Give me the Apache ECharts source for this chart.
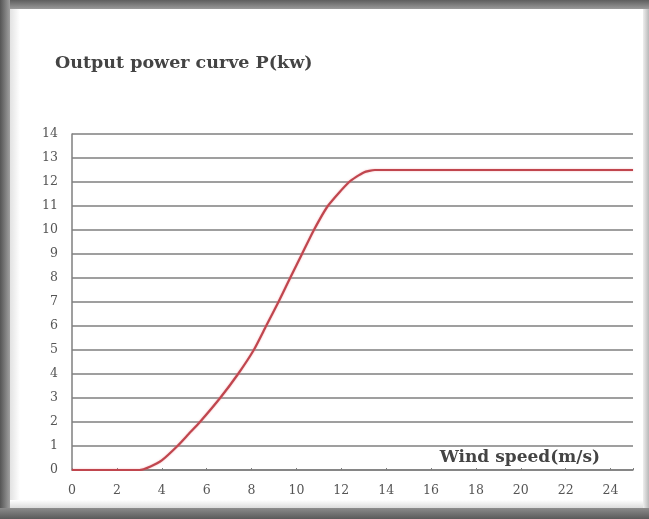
<!DOCTYPE html>
<html>
<head>
<meta charset="utf-8">
<script src="https://cdn.jsdelivr.net/npm/echarts@6/dist/echarts.min.js"></script>
<style>
  html, body { margin: 0; padding: 0; background: #fff; }
  #main { width: 649px; height: 519px; }
</style>
</head>
<body>
<div id="main"></div>
<script>
// wind speed (m/s) and output power (kW)
var speeds = [0, 3, 3.5, 4, 4.7, 5.2, 5.7, 6.6, 7.4, 8.1, 8.65, 9.2, 9.72, 10.25, 10.78, 11.4, 12.35, 13, 13.5, 25];
var power = [0, 0, 0.15, 0.4, 1, 1.5, 2, 3, 4, 5, 6, 7, 8, 9, 10, 11, 12, 12.4, 12.5, 12.5];
var xTicks = [0, 2, 4, 6, 8, 10, 12, 14, 16, 18, 20, 22, 24];
var yTicks = [0, 1, 2, 3, 4, 5, 6, 7, 8, 9, 10, 11, 12, 13, 14];

var serif = '"DejaVu Serif", "Liberation Serif", serif';
var gridGray = '#7f7f7f';

var myChart = echarts.init(document.getElementById('main'));

var curve = speeds.map(function (s, i) { return [s, power[i]]; });

var option = {
    backgroundColor: '#fff',
    animation: false,
    title: {
        text: 'Output power curve P(kw)',
        left: 50,
        top: 49,
        textStyle: {
            fontFamily: serif,
            fontWeight: 'bold',
            fontSize: 17.5,
            color: '#444'
        }
    },
    grid: {
        left: 72,
        right: 16,
        top: 134,
        bottom: 49
    },
    xAxis: {
        type: 'value',
        min: 0,
        max: 25,
        interval: 2,
        name: 'Wind speed(m/s)',
        nameLocation: 'end',
        nameGap: -33,
        nameTextStyle: {
            fontFamily: serif,
            fontWeight: 'bold',
            fontSize: 17,
            color: '#444',
            align: 'right',
            verticalAlign: 'bottom',
            padding: [0, 0, 4, 0]
        },
        splitLine: { show: false },
        axisLine: { show: true, lineStyle: { color: gridGray, width: 1.5 } },
        axisTick: { show: true, inside: true, length: 2, lineStyle: { color: gridGray } },
        axisLabel: {
            margin: 14,
            fontFamily: serif,
            fontSize: 12.5,
            color: '#555',
            customValues: xTicks
        }
    },
    yAxis: {
        type: 'value',
        min: 0,
        max: 14,
        interval: 1,
        splitLine: { show: true, lineStyle: { color: gridGray, width: 1.5 } },
        axisLine: { show: true, lineStyle: { color: gridGray, width: 1.5 } },
        axisTick: { show: false },
        axisLabel: {
            margin: 14,
            fontFamily: serif,
            fontSize: 12.5,
            color: '#555',
            customValues: yTicks
        }
    },
    graphic: [
        // photo frame round the chart
        { type: 'rect', shape: { x: 0, y: 0, width: 649, height: 9 },
          style: { fill: new echarts.graphic.LinearGradient(0, 0, 0, 1, [{ offset: 0, color: '#5e5e5e' }, { offset: 1, color: '#9a9a9a' }]) } },
        { type: 'rect', shape: { x: 0, y: 0, width: 10, height: 519 },
          style: { fill: new echarts.graphic.LinearGradient(0, 0, 1, 0, [{ offset: 0, color: '#555' }, { offset: 1, color: '#a0a0a0' }]) } },
        { type: 'rect', shape: { x: 10, y: 9, width: 10, height: 498 },
          style: { fill: new echarts.graphic.LinearGradient(0, 0, 1, 0, [{ offset: 0, color: '#e2e2e2' }, { offset: 1, color: '#fff' }]) } },
        { type: 'rect', shape: { x: 10, y: 500, width: 639, height: 8 },
          style: { fill: new echarts.graphic.LinearGradient(0, 0, 0, 1, [{ offset: 0, color: '#fff' }, { offset: 1, color: '#dcdcdc' }]) } },
        { type: 'rect', shape: { x: 0, y: 508, width: 649, height: 11 },
          style: { fill: new echarts.graphic.LinearGradient(0, 0, 0, 1, [{ offset: 0, color: '#8c8c8c' }, { offset: 1, color: '#5a5a5a' }]) } },
        { type: 'rect', shape: { x: 643, y: 9, width: 6, height: 499 },
          style: { fill: new echarts.graphic.LinearGradient(0, 0, 1, 0, [{ offset: 0, color: '#eee' }, { offset: 1, color: '#b8b8b8' }]) } }
    ],
    series: [{
        type: 'line',
        data: curve,
        smooth: 0.2,
        showSymbol: false,
        lineStyle: {
            color: '#c0464e',
            width: 2.2,
            shadowColor: 'rgba(235,130,140,0.6)',
            shadowBlur: 2
        }
    }]
};

myChart.setOption(option);
</script>
</body>
</html>
